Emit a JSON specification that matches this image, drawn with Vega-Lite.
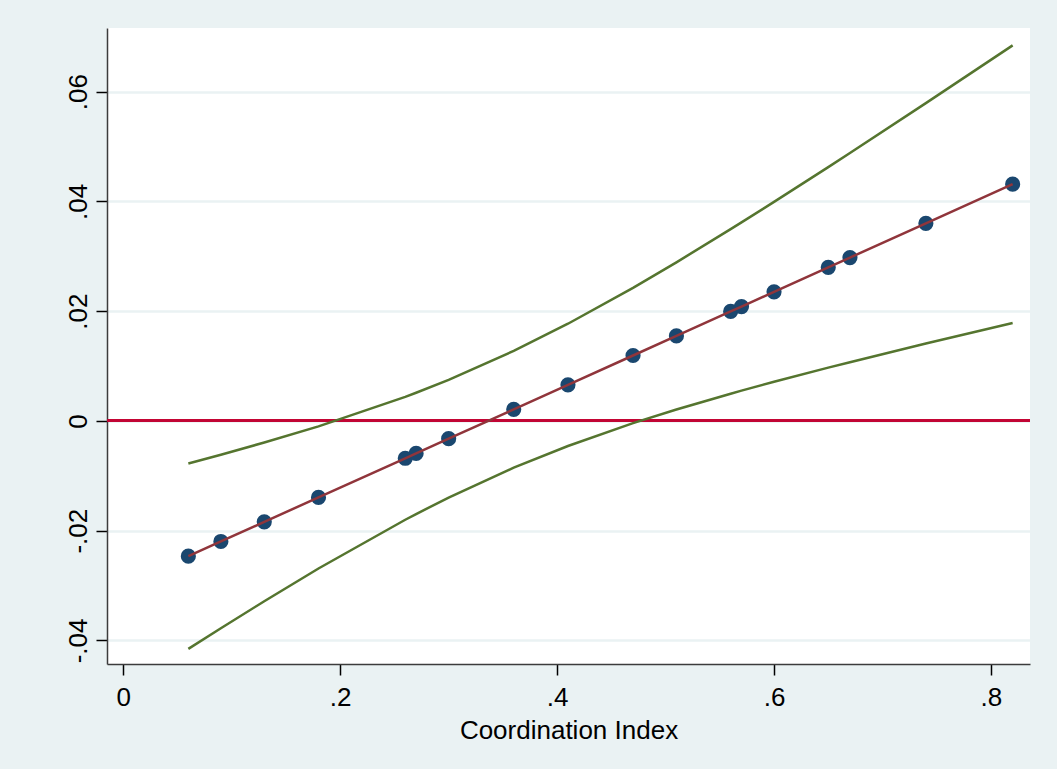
{
  "$schema": "https://vega.github.io/schema/vega-lite/v6.json",
  "width": 923,
  "height": 636,
  "autosize": {"type": "none"},
  "padding": {"left": 107, "top": 28, "right": 27, "bottom": 105},
  "background": "#EAF2F3",
  "view": {"fill": "white", "stroke": null},
  "data": {
    "values": [
      {"x": 0.06, "fit": -0.02465, "lo": -0.04155, "hi": -0.00775},
      {"x": 0.09, "fit": -0.02197, "lo": -0.03778, "hi": -0.00616},
      {"x": 0.13, "fit": -0.01840, "lo": -0.03286, "hi": -0.00394},
      {"x": 0.18, "fit": -0.01394, "lo": -0.02689, "hi": -0.00099},
      {"x": 0.26, "fit": -0.00681, "lo": -0.01801, "hi": 0.00439},
      {"x": 0.27, "fit": -0.00592, "lo": -0.01697, "hi": 0.00513},
      {"x": 0.30, "fit": -0.00324, "lo": -0.01397, "hi": 0.00749},
      {"x": 0.36, "fit": 0.00211, "lo": -0.00853, "hi": 0.01275},
      {"x": 0.41, "fit": 0.00657, "lo": -0.00457, "hi": 0.01771},
      {"x": 0.47, "fit": 0.01192, "lo": -0.00041, "hi": 0.02425},
      {"x": 0.51, "fit": 0.01549, "lo": 0.00208, "hi": 0.02890},
      {"x": 0.56, "fit": 0.01995, "lo": 0.00496, "hi": 0.03494},
      {"x": 0.57, "fit": 0.02084, "lo": 0.00551, "hi": 0.03617},
      {"x": 0.60, "fit": 0.02352, "lo": 0.00713, "hi": 0.03991},
      {"x": 0.65, "fit": 0.02798, "lo": 0.00971, "hi": 0.04625},
      {"x": 0.67, "fit": 0.02976, "lo": 0.01070, "hi": 0.04882},
      {"x": 0.74, "fit": 0.03601, "lo": 0.01411, "hi": 0.05791},
      {"x": 0.82, "fit": 0.04314, "lo": 0.01784, "hi": 0.06844}
    ]
  },
  "config": {
    "font": "Liberation Sans",
    "axis": {
      "labelFont": "Liberation Sans",
      "titleFont": "Liberation Sans",
      "labelFontSize": 26,
      "titleFontSize": 26,
      "labelColor": "#000000",
      "titleColor": "#000000",
      "titleFontWeight": "normal",
      "domainColor": "#3c3c3c",
      "domainWidth": 1.5,
      "tickColor": "#000000",
      "tickWidth": 1.5,
      "tickSize": 11,
      "gridColor": "#EAF2F3",
      "gridWidth": 2.5,
      "gridOpacity": 1
    }
  },
  "encoding": {
    "x": {
      "field": "x",
      "type": "quantitative",
      "scale": {"domain": [-0.015, 0.836], "nice": false, "zero": false},
      "axis": {
        "title": "Coordination Index",
        "values": [0, 0.2, 0.4, 0.6, 0.8],
        "labelExpr": "datum.value == 0 ? '0' : replace(format(datum.value, '.1f'), '0.', '.')",
        "grid": false,
        "labelPadding": 9,
        "titlePadding": 7,
        "labelFlush": false,
        "labelOverlap": false
      }
    }
  },
  "layer": [
    {
      "mark": {"type": "rule", "color": "#C10534", "strokeWidth": 2.3},
      "encoding": {"x": null, "y": {"datum": 0, "type": "quantitative"}}
    },
    {
      "mark": {"type": "line", "color": "#55752F", "strokeWidth": 2.5},
      "encoding": {
        "y": {
          "field": "hi",
          "type": "quantitative",
          "scale": {"domain": [-0.0443, 0.0716], "nice": false, "zero": false},
          "axis": {
            "title": null,
            "values": [-0.04, -0.02, 0, 0.02, 0.04, 0.06],
            "labelExpr": "datum.value == 0 ? '0' : replace(replace(format(datum.value, '.2f'), '0.', '.'), '\u2212', '-')",
            "labelAngle": 270,
            "labelAlign": "center",
            "labelBaseline": "alphabetic",
            "labelPadding": 10,
            "labelFlush": false,
            "labelOverlap": false,
            "grid": true
          }
        }
      }
    },
    {
      "mark": {"type": "line", "color": "#55752F", "strokeWidth": 2.5},
      "encoding": {"y": {"field": "lo", "type": "quantitative"}}
    },
    {
      "mark": {"type": "point", "filled": true, "color": "#1A476F", "opacity": 1, "size": 230, "shape": "circle"},
      "encoding": {"y": {"field": "fit", "type": "quantitative"}}
    },
    {
      "mark": {"type": "line", "color": "#90353B", "strokeWidth": 2.5},
      "encoding": {"y": {"field": "fit", "type": "quantitative"}}
    }
  ]
}
